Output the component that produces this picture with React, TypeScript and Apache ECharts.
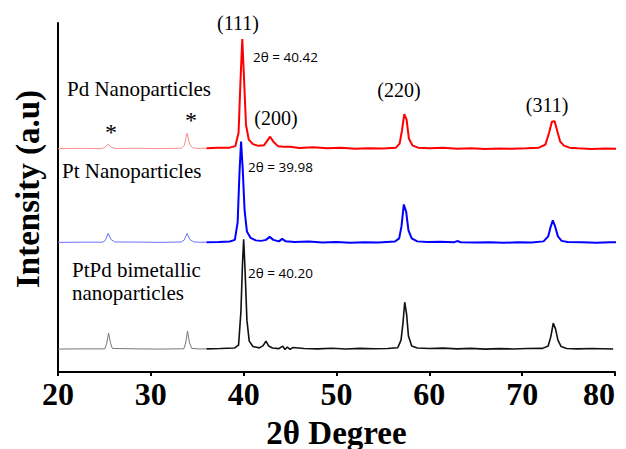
import React, { useEffect, useRef } from "react";
import * as echarts from "echarts";

// 2θ (degree), offset intensity (a.u.)
const pdLight: [number, number][] = [
  [20, 224], [22.5, 224.3], [24.6, 224], [25.0, 225], [25.4, 228.5], [25.8, 225.2], [26.2, 224.2],
  [28.5, 224.4], [30.5, 224], [32.5, 224.3], [33.3, 224.5], [33.6, 227], [33.9, 239.5],
  [34.2, 228], [34.5, 224.8], [35.2, 224.2], [36, 224.4],
];
const pdMain: [number, number][] = [
  [36, 224.4], [37.2, 224.8], [38.5, 225], [39.1, 226.5], [39.45, 240], [39.65, 290], [39.85, 334],
  [40.05, 292], [40.25, 248], [40.55, 233], [41.0, 228.5], [41.6, 226.8], [42.2, 227.5], [42.55, 232],
  [42.85, 236], [43.2, 231], [43.7, 226.5], [44.3, 225.8], [45.0, 226], [46.0, 224.6], [47.5, 225.3],
  [49.0, 224.3], [50.5, 224.9], [52.0, 223.8], [53.5, 224.5], [55.0, 224.1], [56.4, 225], [56.8, 229],
  [57.05, 242], [57.3, 258.5], [57.55, 253], [57.8, 234], [58.2, 227], [58.8, 225], [60.0, 224.3],
  [61.5, 224.8], [63.0, 223.9], [64.5, 224.4], [66.0, 223.6], [67.5, 224.2], [69.0, 223.8], [70.5, 224.3],
  [71.8, 225], [72.5, 228], [72.9, 240], [73.2, 251], [73.5, 251.5], [73.8, 241], [74.1, 231],
  [74.5, 227], [75.1, 225], [76.0, 224.4], [77.5, 223.7], [79.0, 224.1], [80.8, 223.6],
];
const ptLight: [number, number][] = [
  [20, 130], [22.5, 130.2], [24.8, 130.2], [25.1, 132], [25.4, 139], [25.7, 133], [26.1, 130.4],
  [28.5, 130.3], [31.0, 130], [33.3, 130.4], [33.6, 132.5], [33.9, 139], [34.2, 133], [34.6, 130.5],
  [35.3, 130.1], [36, 130.2],
];
const ptMain: [number, number][] = [
  [36, 130.2], [37.3, 130.4], [38.5, 130.8], [39.05, 132.5], [39.35, 150], [39.55, 200], [39.72, 231],
  [39.9, 203], [40.1, 162], [40.35, 141], [40.75, 134.5], [41.3, 132], [41.9, 131.5], [42.4, 132.5],
  [42.8, 135.5], [43.2, 132.5], [43.8, 131], [44.15, 133.5], [44.5, 131.2], [45.5, 130.4], [47.0, 130.8],
  [48.5, 129.8], [50.0, 130.3], [51.5, 129.7], [53.0, 130.2], [54.5, 129.9], [56.3, 130.8], [56.75, 134],
  [57.0, 146], [57.25, 168], [57.5, 161], [57.75, 142], [58.1, 134], [58.7, 131], [59.8, 130.3],
  [61.2, 130.5], [62.7, 130.2], [63.0, 131.3], [63.4, 130.1], [65.0, 129.8], [66.5, 130.1], [68.0, 129.6],
  [69.5, 130], [71.0, 129.8], [72.3, 131], [72.8, 136], [73.05, 145], [73.3, 152], [73.55, 146],
  [73.85, 136], [74.25, 131.5], [74.9, 130.3], [76.5, 130], [78.0, 129.7], [79.5, 130.1], [80.8, 129.9],
];
const ptpdLight: [number, number][] = [
  [20, 23], [22.5, 23.2], [25.05, 23.2], [25.25, 29], [25.45, 39], [25.65, 29.5], [25.85, 23.6],
  [28.5, 23.2], [31.0, 23], [33.55, 23.3], [33.75, 29], [33.95, 41], [34.15, 30], [34.4, 23.7],
  [35.2, 23.1], [36, 23.2],
];
const ptpdMain: [number, number][] = [
  [36, 23.2], [37.5, 23.5], [39.0, 24], [39.45, 27], [39.7, 60], [39.88, 110], [40.0, 133],
  [40.15, 102], [40.35, 52], [40.6, 31], [41.0, 25.5], [41.7, 24.2], [42.1, 26.5], [42.4, 31],
  [42.7, 26], [43.1, 24], [43.8, 23.4], [44.2, 26], [44.45, 22.5], [44.7, 25], [45.0, 22.8],
  [45.3, 24.5], [46.5, 23.6], [48.0, 23.2], [49.5, 23.8], [51.0, 23.1], [52.5, 23.7], [54.0, 23.3],
  [55.5, 23.6], [56.6, 24.3], [56.95, 32], [57.15, 48], [57.35, 70], [57.55, 58], [57.75, 36],
  [58.1, 26], [58.7, 24], [60.0, 23.6], [61.5, 23.9], [63.0, 23.2], [64.5, 23.7], [66.0, 22.9],
  [67.5, 23.4], [69.0, 23.1], [70.5, 23.5], [72.2, 23.7], [72.8, 26], [73.1, 36], [73.35, 49],
  [73.6, 43], [73.85, 32], [74.2, 25.5], [74.8, 23.6], [76.0, 23.2], [77.5, 23.5], [79.8, 23],
];

const xTicks = [20, 30, 40, 50, 60, 70, 80];

const serif = "'Liberation Serif', 'Times New Roman', serif";
const sans = "'Open Sans', 'Noto Sans', sans-serif";

export default function App() {
  const ref = useRef<HTMLDivElement>(null);
  useEffect(() => {
    if (!ref.current) return;
    const chart = echarts.init(ref.current, undefined, { renderer: "svg" });
    const lbl = (text: string, x: number, y: number, align: string, font = serif, size = 21) => ({
      type: "text",
      x,
      y,
      style: {
        text,
        fill: "#000",
        font: `${size}px ${font}`,
        textAlign: align,
        textVerticalAlign: "middle",
      },
    });
    const mk = (data: [number, number][], color: string, width: number) => ({
      type: "line",
      data,
      showSymbol: false,
      symbol: "none",
      clip: false,
      lineStyle: { color, width },
      silent: true,
    });
    chart.setOption({
      animation: false,
      backgroundColor: "#fff",
      grid: { left: 58, right: 11, top: 23, bottom: 77, outerBoundsMode: "none", containLabel: false },
      xAxis: {
        type: "value",
        min: xTicks[0],
        max: xTicks[xTicks.length - 1],
        interval: 10,
        axisLine: { show: true, lineStyle: { color: "#000", width: 2 } },
        axisTick: { show: true, length: 4, lineStyle: { color: "#000", width: 2 } },
        splitLine: { show: false },
        axisLabel: {
          color: "#000",
          fontFamily: serif,
          fontWeight: "bold",
          fontSize: 32,
          margin: 6,
          alignMaxLabel: "right",
        },
        name: "2θ Degree",
        nameLocation: "middle",
        nameGap: 44,
        nameTextStyle: { color: "#000", fontFamily: serif, fontWeight: "bold", fontSize: 33 },
      },
      yAxis: {
        type: "value",
        min: 0,
        max: 350,
        axisLine: { show: true, lineStyle: { color: "#000", width: 2 } },
        axisTick: { show: false },
        axisLabel: { show: false },
        splitLine: { show: false },
      },
      series: [
        mk(pdLight, "#ff8c8c", 1),
        mk(pdMain, "#ff0000", 2),
        mk(ptLight, "#7070ff", 1),
        mk(ptMain, "#0000ff", 2),
        mk(ptpdLight, "#777777", 1),
        mk(ptpdMain, "#111111", 1.6),
      ],
      graphic: [
        {
          type: "text",
          x: 28,
          y: 189,
          rotation: Math.PI / 2,
          style: {
            text: "Intensity (a.u)",
            fill: "#000",
            font: `bold 33px ${serif}`,
            textAlign: "center",
            textVerticalAlign: "middle",
          },
        },
        lbl("(111)", 238, 23, "center", serif, 20),
        lbl("2θ = 40.42", 253, 57, "left", sans, 13.5),
        lbl("Pd Nanoparticles", 67, 89, "left"),
        lbl("*", 105, 132, "left", serif, 24),
        lbl("*", 185, 120, "left", serif, 24),
        lbl("(200)", 276, 118, "center", serif, 20),
        lbl("Pt Nanoparticles", 62, 171, "left"),
        lbl("2θ = 39.98", 248, 167, "left", sans, 13.5),
        lbl("(220)", 399, 90, "center", serif, 20),
        lbl("(311)", 547, 105, "center", serif, 20),
        lbl("PtPd bimetallic", 72, 270, "left"),
        lbl("nanoparticles", 72, 293, "left"),
        lbl("2θ = 40.20", 248, 273, "left", sans, 13.5),
      ],
    });
    return () => chart.dispose();
  }, []);
  return <div ref={ref} style={{ width: 626, height: 449, position: "absolute", left: 0, top: 0 }} />;
}
